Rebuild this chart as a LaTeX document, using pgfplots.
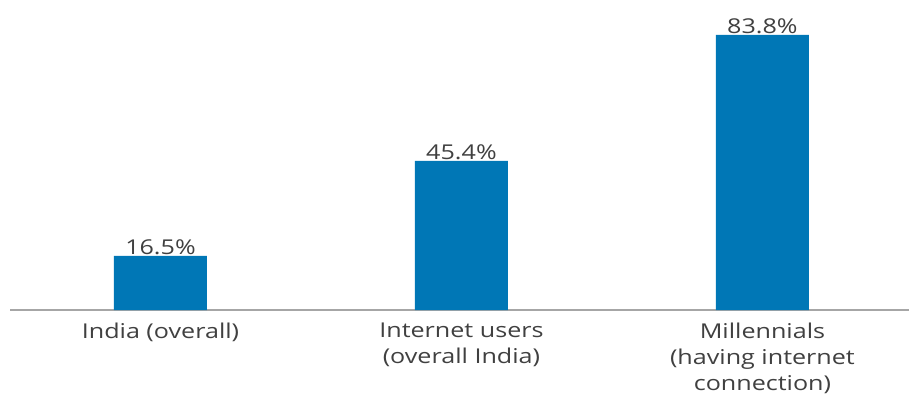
\documentclass[border=0pt]{standalone}
\usepackage{fontspec}
\setmainfont{Open Sans}
\newfontfamily\wide[FakeStretch=1.23]{Open Sans}
\usepackage{pgfplots}
\pgfplotsset{compat=1.18}
\definecolor{barblue}{HTML}{0077B6}
\definecolor{txtgray}{HTML}{404040}
\definecolor{axgray}{HTML}{A6A6A6}
\begin{document}
\begin{tikzpicture}[x=1bp,y=1bp]
\begin{axis}[
  scale only axis,
  width=899bp, height=310bp,
  xmin=-0.5, xmax=2.487,
  ymin=0, ymax=94.45,
  axis y line=none,
  axis x line*=bottom,
  x axis line style={axgray, line width=1.6bp},
  xtick={0,1,2},
  xtick style={draw=none},
  xticklabels={India (overall), {Internet users\\(overall India)}, {Millennials\\(having internet\\connection)}},
  xticklabel style={align=center, font=\wide\fontsize{20.5}{26.5}\selectfont, text=txtgray, yshift=-9bp},
  clip=false,
  /pgf/number format/assume math mode=true,
]
\addplot[ybar, bar width=93bp, fill=barblue, draw=none,
  nodes near coords={\pgfmathprintnumber[fixed,fixed zerofill,precision=1]{\pgfplotspointmeta}\%},
  every node near coord/.append style={font=\wide\fontsize{20.5}{24}\selectfont, text=txtgray, anchor=south, inner sep=1bp}]
  coordinates {(0,16.5) (1,45.4) (2,83.8)};
\end{axis}
\pgfresetboundingbox
\path (-10bp,-89bp) rectangle (899bp,310bp);
\end{tikzpicture}
\end{document}
